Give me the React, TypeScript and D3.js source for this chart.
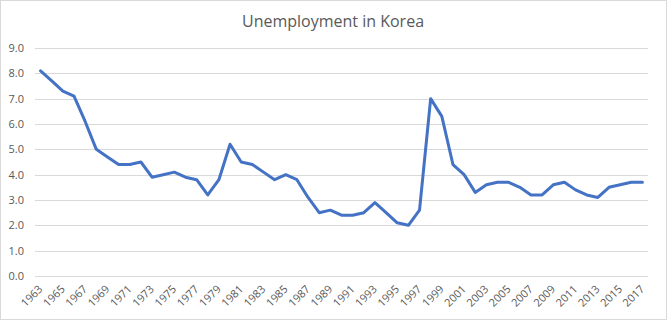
import React from "react";
import * as d3 from "d3";

const years: number[] = d3.range(1963, 2018);
const rates: number[] = [
  8.1, 7.7, 7.3, 7.1, 6.1, 5.0, 4.7, 4.4, 4.4, 4.5,
  3.9, 4.0, 4.1, 3.9, 3.8, 3.2, 3.8, 5.2, 4.5, 4.4,
  4.1, 3.8, 4.0, 3.8, 3.1, 2.5, 2.6, 2.4, 2.4, 2.5,
  2.9, 2.5, 2.1, 2.0, 2.6, 7.0, 6.3, 4.4, 4.0, 3.3,
  3.6, 3.7, 3.7, 3.5, 3.2, 3.2, 3.6, 3.7, 3.4, 3.2,
  3.1, 3.5, 3.6, 3.7, 3.7,
];
const yTicks: number[] = [0, 1, 2, 3, 4, 5, 6, 7, 8, 9];
const title = "Unemployment in Korea";

const W = 667;
const H = 334;
const plotLeft = 35;
const plotRight = 648;
const plotTop = 48;
const plotBottom = 276;
const font = "'Open Sans', 'Liberation Sans', sans-serif";
const textColor = "#595959";

export default function App() {
  const x = d3
    .scaleBand<number>()
    .domain(years)
    .range([plotLeft, plotRight])
    .paddingInner(0)
    .paddingOuter(0);
  const y = d3.scaleLinear().domain([0, 9]).range([plotBottom, plotTop]);
  const cx = (yr: number) => (x(yr) as number) + x.bandwidth() / 2;
  const line = d3
    .line<number>()
    .x((_, i) => cx(years[i]))
    .y((d) => y(d));

  return (
    <svg
      width={W}
      height={H}
      style={{ position: "absolute", left: 0, top: 0, background: "#fff" }}
    >
      <rect x={0.5} y={0.5} width={666} height={319} fill="#fff" stroke="#d9d9d9" />
      <text
        x={333}
        y={27}
        textAnchor="middle"
        fontFamily={font}
        fontSize={16}
        fill={textColor}
      >
        {title}
      </text>
      {yTicks.map((t) => (
        <g key={t}>
          <line
            x1={plotLeft}
            x2={plotRight}
            y1={Math.round(y(t)) + 0.5}
            y2={Math.round(y(t)) + 0.5}
            stroke="#d9d9d9"
            strokeWidth={1}
          />
          <text
            x={24}
            y={y(t)}
            dy="0.35em"
            textAnchor="end"
            fontFamily={font}
            fontSize={11}
            fill={textColor}
          >
            {t.toFixed(1)}
          </text>
        </g>
      ))}
      {years
        .filter((_, i) => i % 2 === 0)
        .map((yr) => (
          <text
            key={yr}
            transform={`translate(${cx(yr)},${plotBottom + 11}) rotate(-45)`}
            textAnchor="end"
            dy="0.35em"
            fontFamily={font}
            fontSize={11}
            fill={textColor}
          >
            {yr}
          </text>
        ))}
      <path
        d={line(rates) || ""}
        fill="none"
        stroke="#4472C4"
        strokeWidth={3}
        strokeLinejoin="round"
        strokeLinecap="round"
      />
    </svg>
  );
}
